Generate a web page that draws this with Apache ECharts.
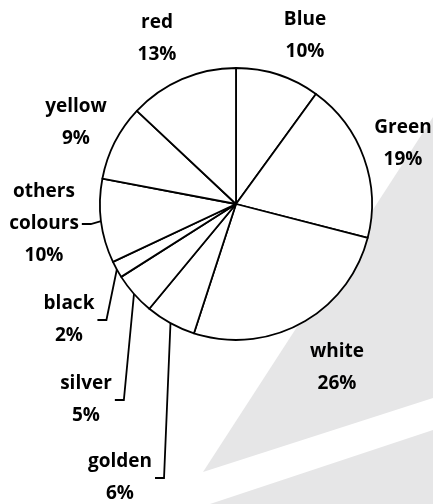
<!DOCTYPE html>
<html>
<head>
<meta charset="utf-8">
<script src="https://cdn.jsdelivr.net/npm/echarts@6/dist/echarts.min.js"></script>
<style>
  html, body { margin: 0; padding: 0; background: #ffffff; }
  #chart { width: 433px; height: 504px; }
</style>
</head>
<body>
<div id="chart"></div>
<script>
// Car colour shares, clockwise from 12 o'clock
const colourNames = ['Blue', 'Green', 'white', 'golden', 'silver', 'black', 'others colours', 'yellow', 'red'];
const colourShares = [10, 19, 26, 6, 5, 2, 10, 9, 13];
// Slices whose labels are tied back to the pie with a leader line
const withLeader = ['golden', 'silver', 'black', 'others colours'];

// Label anchor points (centre of each label block)
const labelSpots = {
  'Blue': [305, 36],
  'Green': [403, 144],
  'white': [337, 368],
  'golden': [120, 478],
  'silver': [86, 400],
  'black': [69, 320],
  'others colours': [44, 224],
  'yellow': [76, 123],
  'red': [157, 39]
};

const chart = echarts.init(document.getElementById('chart'), null, { renderer: 'canvas' });

// Tall invisible padding keeps the leader line attached to the right side of the label box
const pieData = colourNames.map((name, i) => {
  const leader = withLeader.indexOf(name) >= 0;
  return {
    name: name,
    value: colourShares[i],
    label: leader ? { padding: [320, 3] } : {},
    labelLine: { show: leader }
  };
});

chart.setOption({
  backgroundColor: '#ffffff',
  animation: false,
  graphic: [
    {
      type: 'polygon', z: -10, silent: true,
      shape: { points: [[433, 117], [203, 472], [433, 398]] },
      style: { fill: '#e6e6e7' }
    },
    {
      type: 'polygon', z: -10, silent: true,
      shape: { points: [[433, 430], [210, 504], [433, 504]] },
      style: { fill: '#e6e6e7' }
    }
  ],
  series: [{
    type: 'pie',
    center: [236, 204],
    radius: 136,
    startAngle: 90,
    clockwise: true,
    avoidLabelOverlap: false,
    data: pieData,
    itemStyle: { color: '#ffffff', borderColor: '#000000', borderWidth: 1.8 },
    emphasis: { disabled: true },
    label: {
      show: true,
      position: 'outside',
      formatter: p => p.name.replace(' ', '\n') + '\n' + p.percent + '%',
      fontFamily: '"Open Sans", sans-serif',
      fontWeight: 'bold',
      fontSize: 19,
      lineHeight: 32,
      color: '#000000',
      align: 'center'
    },
    labelLine: {
      show: true,
      length: 10,
      length2: 9,
      smooth: false,
      lineStyle: { color: '#000000', width: 1.8 }
    },
    labelLayout: function (params) {
      const spot = labelSpots[colourNames[params.dataIndex]];
      return { x: spot[0], y: spot[1], align: 'center', verticalAlign: 'middle' };
    }
  }]
});
</script>
</body>
</html>
